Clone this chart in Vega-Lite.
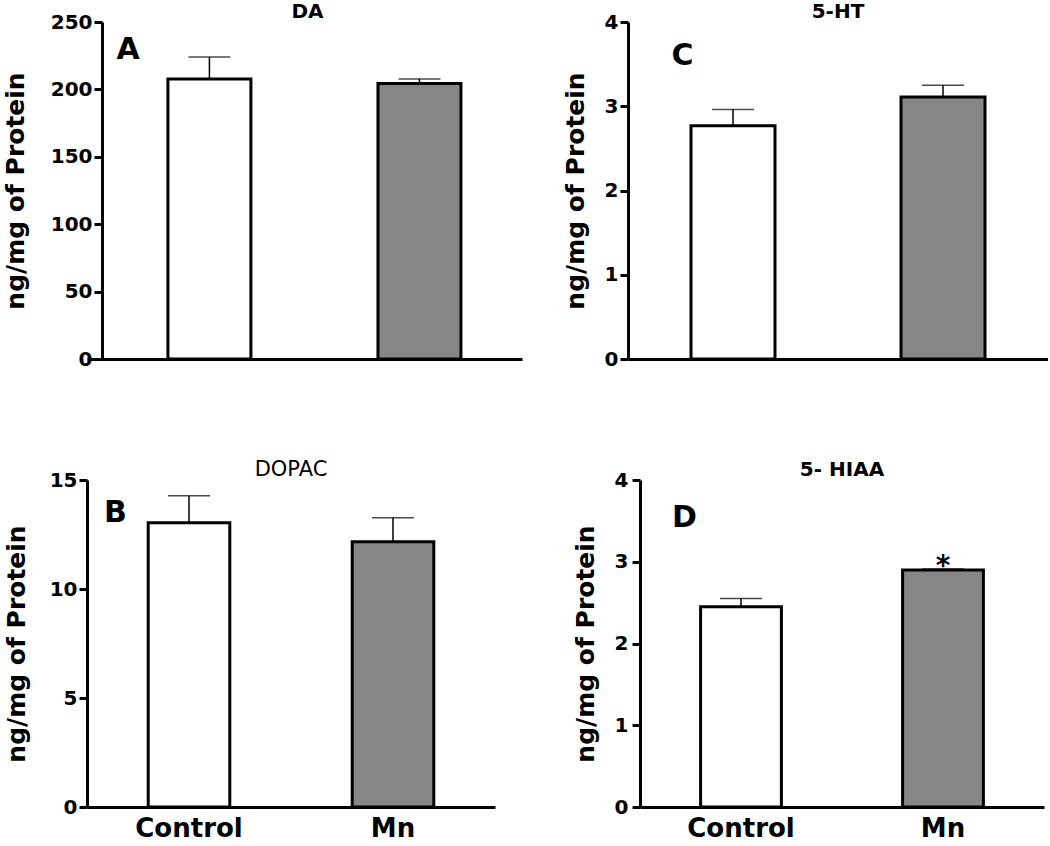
{
  "$schema": "https://vega.github.io/schema/vega-lite/v6.json",
  "padding": {"left": 3, "top": 2, "right": 0, "bottom": 0},
  "background": "white",
  "data": {"values": [
    {"panel": "DA", "group": "Control", "value": 207.7, "upper": 224.0, "sig": ""},
    {"panel": "DA", "group": "Mn", "value": 204.4, "upper": 207.7, "sig": ""},
    {"panel": "DOPAC", "group": "Control", "value": 13.04, "upper": 14.28, "sig": ""},
    {"panel": "DOPAC", "group": "Mn", "value": 12.17, "upper": 13.27, "sig": ""},
    {"panel": "5-HT", "group": "Control", "value": 2.77, "upper": 2.96, "sig": ""},
    {"panel": "5-HT", "group": "Mn", "value": 3.11, "upper": 3.25, "sig": ""},
    {"panel": "5-HIAA", "group": "Control", "value": 2.45, "upper": 2.55, "sig": ""},
    {"panel": "5-HIAA", "group": "Mn", "value": 2.90, "upper": 2.91, "sig": "*"}
  ]},
  "concat": [
    {
      "hconcat": [
        {
          "width": 435, "height": 337,
          "title": {"text": "DA", "dx": 3},
          "transform": [{"filter": "datum.panel === 'DA'"}],
          "encoding": {"x": {"field": "group", "type": "nominal", "sort": ["Control", "Mn"], "scale": {"paddingInner": 0.605, "paddingOuter": 0.338, "align": 0.57}, "axis": {"labels": false, "ticks": false, "title": null}}},
          "layer": [
            {"mark": {"type": "bar", "stroke": "black", "strokeWidth": 3},
             "encoding": {"y": {"field": "value", "type": "quantitative", "scale": {"domain": [0, 250], "nice": false}, "axis": {"values": [0, 50, 100, 150, 200, 250], "format": "d", "title": "ng/mg of Protein", "offset": -15, "titlePadding": 22}},
                          "fill": {"field": "group", "type": "nominal", "scale": {"domain": ["Control", "Mn"], "range": ["white", "#868686"]}, "legend": null}}},
            {"mark": {"type": "rule", "strokeWidth": 1.5, "color": "black"},
             "encoding": {"y": {"field": "value", "type": "quantitative"}, "y2": {"field": "upper"}}},
            {"mark": {"type": "tick", "thickness": 1.5, "size": 42, "color": "black"},
             "encoding": {"y": {"field": "upper", "type": "quantitative"}}},
            {"transform": [{"filter": "datum.group === 'Control'"}],
             "mark": {"type": "text", "fontSize": 30, "fontWeight": "bold", "color": "black", "baseline": "middle", "align": "center"},
             "encoding": {"x": {"datum": "Control", "bandPosition": -0.48}, "y": {"datum": 229}, "text": {"value": "A"}}}
          ]
        },
        {
          "width": 420, "height": 337,
          "title": {"text": "5-HT"},
          "transform": [{"filter": "datum.panel === '5-HT'"}],
          "encoding": {"x": {"field": "group", "type": "nominal", "sort": ["Control", "Mn"], "scale": {"paddingInner": 0.6, "paddingOuter": 0.3}, "axis": {"labels": false, "ticks": false, "title": null}}},
          "layer": [
            {"mark": {"type": "bar", "stroke": "black", "strokeWidth": 3},
             "encoding": {"y": {"field": "value", "type": "quantitative", "scale": {"domain": [0, 4], "nice": false}, "axis": {"values": [0, 1, 2, 3, 4], "format": "d", "title": "ng/mg of Protein"}},
                          "fill": {"field": "group", "type": "nominal", "scale": {"domain": ["Control", "Mn"], "range": ["white", "#868686"]}, "legend": null}}},
            {"mark": {"type": "rule", "strokeWidth": 1.5, "color": "black"},
             "encoding": {"y": {"field": "value", "type": "quantitative"}, "y2": {"field": "upper"}}},
            {"mark": {"type": "tick", "thickness": 1.5, "size": 42, "color": "black"},
             "encoding": {"y": {"field": "upper", "type": "quantitative"}}},
            {"transform": [{"filter": "datum.group === 'Control'"}],
             "mark": {"type": "text", "fontSize": 30, "fontWeight": "bold", "color": "black", "baseline": "middle", "align": "center"},
             "encoding": {"x": {"datum": "Control", "bandPosition": -0.1}, "y": {"datum": 3.6}, "text": {"value": "C"}}}
          ]
        }
      ],
      "spacing": 41
    },
    {
      "hconcat": [
        {
          "width": 408, "height": 327,
          "title": {"text": "DOPAC", "fontWeight": "normal", "fontSize": 21},
          "transform": [{"filter": "datum.panel === 'DOPAC'"}],
          "encoding": {"x": {"field": "group", "type": "nominal", "sort": ["Control", "Mn"], "scale": {"paddingInner": 0.6, "paddingOuter": 0.3}, "axis": {"ticks": false, "title": null, "labelAngle": 0, "labelFontSize": 26, "labelPadding": 8}}},
          "layer": [
            {"mark": {"type": "bar", "stroke": "black", "strokeWidth": 3},
             "encoding": {"y": {"field": "value", "type": "quantitative", "scale": {"domain": [0, 15], "nice": false}, "axis": {"values": [0, 5, 10, 15], "format": "d", "title": "ng/mg of Protein", "titlePadding": 20}},
                          "fill": {"field": "group", "type": "nominal", "scale": {"domain": ["Control", "Mn"], "range": ["white", "#868686"]}, "legend": null}}},
            {"mark": {"type": "rule", "strokeWidth": 1.5, "color": "black"},
             "encoding": {"y": {"field": "value", "type": "quantitative"}, "y2": {"field": "upper"}}},
            {"mark": {"type": "tick", "thickness": 1.5, "size": 42, "color": "black"},
             "encoding": {"y": {"field": "upper", "type": "quantitative"}}},
            {"transform": [{"filter": "datum.group === 'Control'"}],
             "mark": {"type": "text", "fontSize": 30, "fontWeight": "bold", "color": "black", "baseline": "middle", "align": "center"},
             "encoding": {"x": {"datum": "Control", "bandPosition": -0.4}, "y": {"datum": 13.5}, "text": {"value": "B"}}}
          ]
        },
        {
          "width": 404, "height": 327,
          "title": {"text": "5- HIAA"},
          "transform": [{"filter": "datum.panel === '5-HIAA'"}],
          "encoding": {"x": {"field": "group", "type": "nominal", "sort": ["Control", "Mn"], "scale": {"paddingInner": 0.6, "paddingOuter": 0.3}, "axis": {"ticks": false, "title": null, "labelAngle": 0, "labelFontSize": 26, "labelPadding": 8}}},
          "layer": [
            {"mark": {"type": "bar", "stroke": "black", "strokeWidth": 3},
             "encoding": {"y": {"field": "value", "type": "quantitative", "scale": {"domain": [0, 4], "nice": false}, "axis": {"values": [0, 1, 2, 3, 4], "format": "d", "title": "ng/mg of Protein", "labelPadding": 4}},
                          "fill": {"field": "group", "type": "nominal", "scale": {"domain": ["Control", "Mn"], "range": ["white", "#868686"]}, "legend": null}}},
            {"mark": {"type": "rule", "strokeWidth": 1.5, "color": "black"},
             "encoding": {"y": {"field": "value", "type": "quantitative"}, "y2": {"field": "upper"}}},
            {"mark": {"type": "tick", "thickness": 1.5, "size": 42, "color": "black"},
             "encoding": {"y": {"field": "upper", "type": "quantitative"}}},
            {"mark": {"type": "text", "fontSize": 28, "fontWeight": "bold", "color": "black", "baseline": "alphabetic", "align": "center", "dy": 6},
             "encoding": {"y": {"field": "upper", "type": "quantitative"}, "text": {"field": "sig"}}},
            {"transform": [{"filter": "datum.group === 'Control'"}],
             "mark": {"type": "text", "fontSize": 30, "fontWeight": "bold", "color": "black", "baseline": "middle", "align": "center"},
             "encoding": {"x": {"datum": "Control", "bandPosition": -0.2}, "y": {"datum": 3.53}, "text": {"value": "D"}}}
          ]
        }
      ],
      "spacing": 78
    }
  ],
  "columns": 1,
  "align": "none",
  "spacing": 90,
  "config": {
    "view": {"stroke": null},
    "font": "DejaVu Sans",
    "axis": {
      "grid": false,
      "domainColor": "black", "domainWidth": 3,
      "tickColor": "black", "tickWidth": 3, "tickSize": 8,
      "labelColor": "black", "labelFont": "DejaVu Sans", "labelFontWeight": "bold", "labelFontSize": 20, "labelPadding": 2,
      "titleColor": "black", "titleFont": "DejaVu Sans", "titleFontWeight": "bold", "titleFontSize": 25, "titlePadding": 16
    },
    "title": {"font": "DejaVu Sans", "fontSize": 20, "fontWeight": "bold", "color": "black", "offset": -10}
  }
}
